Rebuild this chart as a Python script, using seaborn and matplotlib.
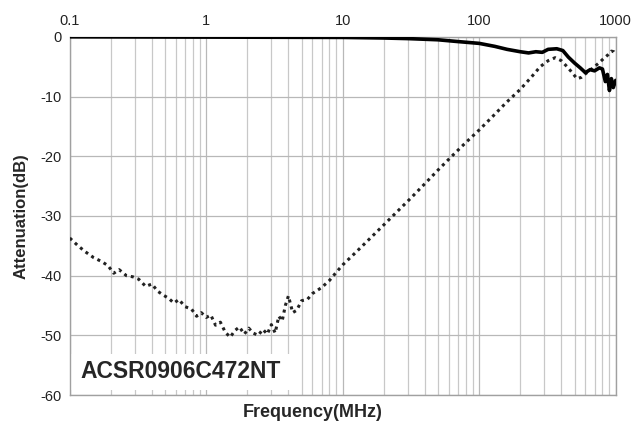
import matplotlib
matplotlib.use("Agg")
import matplotlib.pyplot as plt
import matplotlib.ticker as ticker
import pandas as pd
import seaborn as sns

# dotted curve
freq_dot = [0.1, 0.115, 0.13, 0.15, 0.17, 0.19, 0.21, 0.23, 0.26, 0.29, 0.32, 0.36, 0.40,
            0.44, 0.48, 0.53, 0.58, 0.63, 0.70, 0.78, 0.85, 0.92, 1.0, 1.08, 1.17, 1.27,
            1.38, 1.5, 1.62, 1.75, 1.9, 2.05, 2.2, 2.4, 2.6, 2.8, 3.0, 3.2, 3.4, 3.6, 3.8,
            4.0, 4.3, 4.6, 5.0, 5.5, 6.0, 7.0, 8.0, 9.0, 10, 12.6, 15.8, 20, 25, 31.6, 40,
            50, 63, 79, 100, 126, 158, 200, 240, 280, 320, 360, 400, 440, 480, 520, 560,
            600, 650, 700, 760, 820, 880, 930, 970, 1000]
att_dot = [-33.7, -35.0, -36.0, -37.0, -37.6, -38.3, -39.6, -39.0, -40.0, -40.2, -40.6, -41.8, -41.4,
           -42.6, -43.2, -43.8, -44.6, -44.0, -45.2, -45.6, -46.8, -46.2, -47.0, -46.6, -48.3, -47.8,
           -49.5, -50.3, -49.2, -48.6, -49.8, -48.8, -49.6, -50.0, -49.0, -49.8, -48.2, -49.6, -46.8, -47.6, -45.0,
           -43.4, -46.2, -45.8, -44.2, -44.0, -43.0, -42.0, -40.8, -39.4, -38.2, -36.0, -33.8, -31.5, -29.3, -27.0, -24.6,
           -22.3, -20.0, -17.8, -15.6, -13.3, -11.0, -8.8, -6.8, -5.0, -4.0, -3.5, -4.0, -5.0, -6.0, -7.0, -6.8,
           -6.2, -5.6, -5.0, -4.3, -3.6, -3.0, -2.4, -2.5, -2.9]

# solid curve
freq_sol = [0.1, 1, 10, 20, 30, 50, 70, 100, 130, 160, 200, 230, 260, 290, 320, 370, 410, 450,
            500, 550, 600, 650, 700, 760, 800, 840, 870, 900, 930, 960, 1000]
att_sol = [0, -0.05, -0.1, -0.2, -0.3, -0.5, -0.8, -1.1, -1.6, -2.1, -2.5, -2.7, -2.5, -2.6,
           -2.1, -2.0, -2.3, -3.4, -4.4, -5.2, -6.0, -5.5, -5.7, -5.2, -5.4, -7.5, -6.3, -9.0,
           -7.0, -8.5, -7.3]

x_ticks = [0.1, 1, 10, 100, 1000]
x_labels = ["0.1", "1", "10", "100", "1000"]
y_ticks = [0, -10, -20, -30, -40, -50, -60]

df_dot = pd.DataFrame({"freq": freq_dot, "att": att_dot})
df_sol = pd.DataFrame({"freq": freq_sol, "att": att_sol})

sns.set_style("white")
plt.rcParams["font.family"] = ["Liberation Sans", "DejaVu Sans"]
plt.rcParams["axes.unicode_minus"] = False

fig = plt.figure(figsize=(6.4, 4.28), dpi=100)
ax = fig.add_axes([0.109, 0.077, 0.853, 0.837])

sns.lineplot(data=df_dot, x="freq", y="att", ax=ax, color="#222222",
             linestyle=(0, (1, 1.3)), linewidth=2.2, zorder=3)
sns.lineplot(data=df_sol, x="freq", y="att", ax=ax, color="black",
             linewidth=2.6, zorder=4)

ax.set_xscale("log")
ax.set_xlim(0.1, 1000)
ax.set_ylim(-60, 0)
ax.set_xticks(x_ticks)
ax.set_xticklabels(x_labels)
ax.set_yticks(y_ticks)
ax.xaxis.set_minor_locator(ticker.LogLocator(base=10, subs=range(2, 10)))
ax.xaxis.set_minor_formatter(ticker.NullFormatter())
ax.xaxis.tick_top()
ax.tick_params(axis="both", which="both", length=0, labelsize=10.5, colors="#222222", pad=6)

ax.grid(True, which="major", color="#b8b8b8", linewidth=0.9)
ax.grid(True, which="minor", axis="x", color="#c8c8c8", linewidth=0.9)
for s in ax.spines.values():
    s.set_color("#a0a0a0")
    s.set_linewidth(1)

ax.set_xlabel("")
ax.set_ylabel("Attenuation(dB)", fontsize=12, fontweight="bold", labelpad=8)
fig.text(0.488, 0.016, "Frequency(MHz)", ha="center", va="bottom", fontsize=13, fontweight="bold")

# white label box over the grid
ax.add_patch(plt.Rectangle((0.0, 0.015), 0.41, 0.1, transform=ax.transAxes,
                           facecolor="white", edgecolor="none", zorder=2.5))
ax.text(0.02, 0.065, "ACSR0906C472NT", transform=ax.transAxes, fontsize=16.5,
        fontweight="bold", va="center", ha="left", zorder=5)

fig.savefig("out.png", dpi=100)
